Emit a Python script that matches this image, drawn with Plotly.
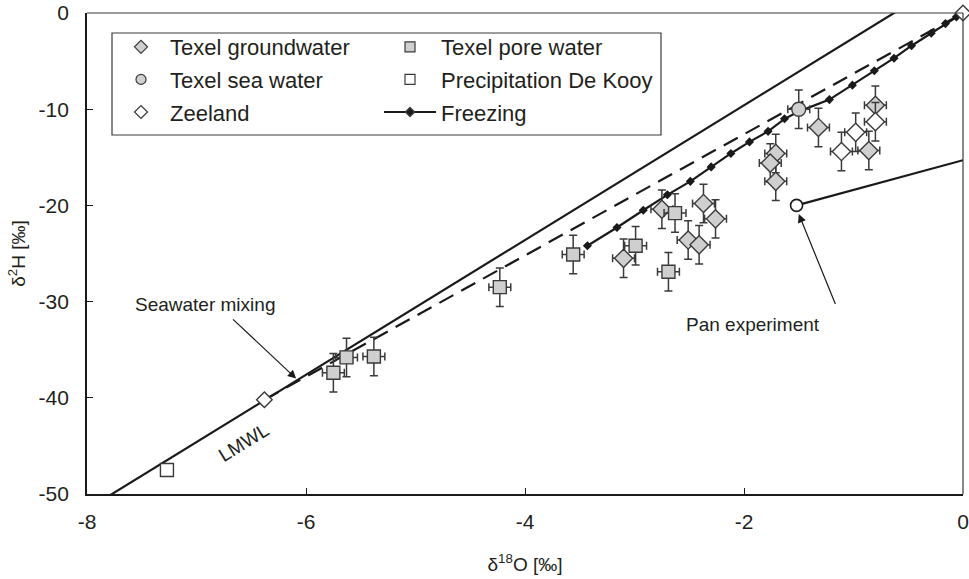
import plotly.graph_objects as go

FONT = "Liberation Sans, Arial, sans-serif"
TXT = "#231f20"

# ---- axes ----
x_tickvals = [-8, -6, -4, -2, 0]
x_ticktext = ["-8", "-6", "-4", "-2", "0"]
y_tickvals = [-50, -40, -30, -20, -10, 0]
y_ticktext = ["-50", "-40", "-30", "-20", "-10", "0"]

# ---- measurement uncertainty ----
err_d18o = 0.1
err_d2h = 2.0

# ---- data ----
gw_d18o = [-1.32, -1.71, -1.76, -1.71, -0.86, -0.80, -2.75, -2.37, -2.26, -2.51, -2.41, -3.10]
gw_d2h = [-11.9, -14.6, -15.6, -17.5, -14.3, -9.6, -20.4, -19.8, -21.4, -23.6, -24.1, -25.5]

sea_d18o = [-1.50]
sea_d2h = [-10.0]

zee_d18o = [-0.98, -1.11, -0.80]
zee_d2h = [-12.4, -14.4, -11.3]
zee_end_d18o = [-6.38, 0.0]
zee_end_d2h = [-40.2, 0.0]

pore_d18o = [-5.75, -5.63, -5.38, -4.23, -3.56, -2.99, -2.63, -2.69]
pore_d2h = [-37.4, -35.8, -35.7, -28.5, -25.1, -24.2, -20.8, -26.9]

precip_d18o = [-7.27]
precip_d2h = [-47.5]

freeze_d18o = [-3.43, -3.16, -2.92, -2.70, -2.49, -2.30, -2.12, -1.95, -1.78, -1.63,
               -1.49, -1.22, -1.01, -0.81, -0.63, -0.47, -0.29, -0.16, -0.06, 0.0]
freeze_d2h = [-24.2, -22.3, -20.5, -18.9, -17.5, -16.0, -14.6, -13.4, -12.3, -11.0,
              -10.2, -9.0, -7.5, -6.0, -4.7, -3.4, -2.1, -1.1, -0.4, 0.0]

lmwl_d18o = [-7.90, -0.53]
lmwl_d2h = [-50.9, 0.7]

mix_d18o = [-6.38, 0.0]
mix_d2h = [-40.2, 0.0]

pan_d18o = [-1.52]
pan_d2h = [-20.0]
pan_line_d18o = [-1.52, 0.0]
pan_line_d2h = [-20.0, -15.3]

GRAY = "#cfcfcf"
EDGE = "#3a3a3a"
DARK = "#1a1a1a"


def errs():
    return (dict(type="constant", value=err_d18o, color=EDGE, thickness=1.5, width=4),
            dict(type="constant", value=err_d2h, color=EDGE, thickness=1.5, width=4))


fig = go.Figure()

# lines
fig.add_trace(go.Scatter(x=lmwl_d18o, y=lmwl_d2h, mode="lines",
                         line=dict(color=DARK, width=2.2), showlegend=False))
fig.add_trace(go.Scatter(x=mix_d18o, y=mix_d2h, mode="lines",
                         line=dict(color=DARK, width=2.2, dash="16px,9px"), showlegend=False))
fig.add_trace(go.Scatter(x=pan_line_d18o, y=pan_line_d2h, mode="lines",
                         line=dict(color=DARK, width=2.2), showlegend=False))
fig.add_trace(go.Scatter(x=freeze_d18o, y=freeze_d2h, mode="lines+markers",
                         line=dict(color=DARK, width=2.2),
                         marker=dict(symbol="diamond", size=7, color=DARK),
                         showlegend=False))

# data points
ex, ey = errs()
fig.add_trace(go.Scatter(x=gw_d18o, y=gw_d2h, mode="markers", error_x=ex, error_y=ey,
                         marker=dict(symbol="diamond", size=14, color=GRAY,
                                     line=dict(color=EDGE, width=1.4)), showlegend=False))
ex, ey = errs()
fig.add_trace(go.Scatter(x=zee_d18o, y=zee_d2h, mode="markers", error_x=ex, error_y=ey,
                         marker=dict(symbol="diamond", size=14, color="white",
                                     line=dict(color=EDGE, width=1.4)), showlegend=False))
fig.add_trace(go.Scatter(x=zee_end_d18o, y=zee_end_d2h, mode="markers", cliponaxis=False,
                         marker=dict(symbol="diamond", size=12, color="white",
                                     line=dict(color=EDGE, width=1.4)), showlegend=False))
ex, ey = errs()
fig.add_trace(go.Scatter(x=pore_d18o, y=pore_d2h, mode="markers", error_x=ex, error_y=ey,
                         marker=dict(symbol="square", size=13, color=GRAY,
                                     line=dict(color=EDGE, width=1.4)), showlegend=False))
ex, ey = errs()
fig.add_trace(go.Scatter(x=sea_d18o, y=sea_d2h, mode="markers", error_x=ex, error_y=ey,
                         marker=dict(symbol="circle", size=14, color=GRAY,
                                     line=dict(color=EDGE, width=1.4)), showlegend=False))
fig.add_trace(go.Scatter(x=precip_d18o, y=precip_d2h, mode="markers",
                         marker=dict(symbol="square", size=13, color="white",
                                     line=dict(color=EDGE, width=1.4)), showlegend=False))
fig.add_trace(go.Scatter(x=pan_d18o, y=pan_d2h, mode="markers",
                         marker=dict(symbol="circle", size=12, color="white",
                                     line=dict(color=DARK, width=1.6)), showlegend=False))


# legend entries
def leg(name, symbol, fill, legend, group, mode="markers", size=10):
    return go.Scatter(x=[None], y=[None], mode=mode, name=name, legend=legend,
                      legendgroup=group,
                      line=dict(color=DARK, width=2.2),
                      marker=dict(symbol=symbol, size=size, color=fill,
                                  line=dict(color=EDGE, width=1.2)))


fig.add_trace(leg("Texel groundwater", "diamond", GRAY, "legend", "a"))
fig.add_trace(leg("Texel sea water", "circle", GRAY, "legend", "b"))
fig.add_trace(leg("Zeeland", "diamond", "white", "legend", "c"))
fig.add_trace(leg("Texel pore water", "square", GRAY, "legend2", "d"))
fig.add_trace(leg("Precipitation De Kooy", "square", "white", "legend2", "e"))
fig.add_trace(leg("Freezing", "diamond", DARK, "legend2", "f", mode="lines+markers", size=7))

L, R, T, B = 87, 6, 13, 85
W, H = 969, 579
pw, ph = W - L - R, H - T - B


def px_x(p):
    return (p - L) / pw


def px_y(p):
    return (H - B - p) / ph


legend_common = dict(bgcolor="rgba(0,0,0,0)", borderwidth=0,
                     font=dict(family=FONT, size=22, color=TXT),
                     xanchor="left", yanchor="top", tracegroupgap=1)
fig.update_layout(
    template="none",
    width=W, height=H,
    margin=dict(l=L, r=R, t=T, b=B, autoexpand=False),
    paper_bgcolor="white", plot_bgcolor="white",
    font=dict(family=FONT, color=TXT),
    legend=dict(x=px_x(112), y=px_y(26), itemwidth=48, **legend_common),
    legend2=dict(x=px_x(379), y=px_y(26), itemwidth=52, **legend_common),
    xaxis=dict(range=[-8, 0], tickvals=x_tickvals, ticktext=x_ticktext, automargin=False,
               ticks="inside", ticklen=6, tickwidth=1.2, tickcolor=DARK,
               showline=True, linewidth=1.8, linecolor=DARK,
               showgrid=False, zeroline=False,
               tickfont=dict(size=21, color=TXT), ticklabelstandoff=8,
               title=dict(text="δ<sup>18</sup>O [‰]", font=dict(size=19, color=TXT), standoff=26)),
    yaxis=dict(range=[-50, 0], tickvals=y_tickvals, ticktext=y_ticktext, automargin=False,
               ticks="inside", ticklen=6, tickwidth=1.2, tickcolor=DARK,
               showline=True, linewidth=1.8, linecolor=DARK,
               showgrid=False, zeroline=False,
               tickfont=dict(size=21, color=TXT), ticklabelstandoff=12,
               title=dict(text="δ<sup>2</sup>H [‰]", font=dict(size=19, color=TXT), standoff=8)),
    shapes=[
        dict(type="rect", xref="paper", yref="paper", x0=px_x(112), x1=px_x(661),
             y0=px_y(135), y1=px_y(33), line=dict(color="#3a3a3a", width=1.2)),
        dict(type="line", xref="paper", yref="paper", x0=0, x1=1, y0=1, y1=1,
             line=dict(color="#3a3a3a", width=1.2)),
        dict(type="line", xref="paper", yref="paper", x0=1, x1=1, y0=0, y1=1,
             line=dict(color="#3a3a3a", width=1.2)),
    ],
)

ann_font = dict(family=FONT, size=19, color=TXT)
fig.add_annotation(x=-6.92, y=-30.35, text="Seawater mixing", showarrow=False, font=ann_font)
fig.add_annotation(x=-6.09, y=-38.0, ax=-6.68, ay=-31.7, axref="x", ayref="y",
                   text="", showarrow=True, arrowhead=2, arrowsize=1.4, arrowwidth=1.2,
                   arrowcolor=DARK)
fig.add_annotation(x=-1.92, y=-32.4, text="Pan experiment", showarrow=False, font=ann_font)
fig.add_annotation(x=-1.50, y=-20.9, ax=-1.16, ay=-30.4, axref="x", ayref="y",
                   text="", showarrow=True, arrowhead=2, arrowsize=1.4, arrowwidth=1.2,
                   arrowcolor=DARK)
fig.add_annotation(x=-6.57, y=-44.6, text="LMWL", showarrow=False, textangle=-31.6, font=ann_font)

fig.write_html("out.html")
